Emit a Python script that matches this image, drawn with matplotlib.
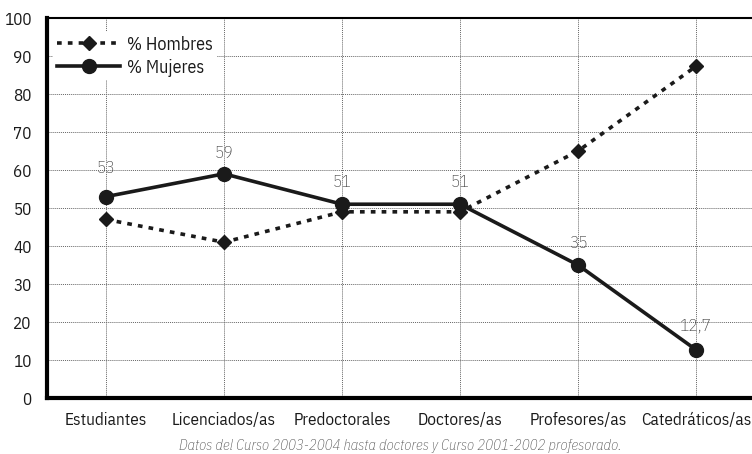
import matplotlib.pyplot as plt

categorias = ["Estudiantes", "Licenciados/as", "Predoctorales", "Doctores/as",
              "Profesores/as", "Catedráticos/as"]
hombres = [47, 41, 49, 49, 65, 87.3]
mujeres = [53, 59, 51, 51, 35, 12.7]
etiquetas_mujeres = ["53", "59", "51", "51", "35", "12,7"]
yticks = list(range(0, 101, 10))

# distancia de la etiqueta sobre el punto (unidades del eje y)
desplaz = [7.6, 5.4, 5.8, 5.8, 5.8, 6.4]

plt.rcParams["font.family"] = ["IBM Plex Sans Condensed", "Fira Sans Condensed", "DejaVu Sans"]

fig = plt.figure(figsize=(7.52, 4.54), dpi=100)
ax = fig.add_axes([0.0625, 0.1233, 0.9415, 0.837])

x = list(range(len(categorias)))
ax.plot(x, hombres, color="#1a1a1a", lw=2.6, ls=(0, (1.3, 1.7)),
        marker="D", ms=7.5, label="% Hombres", zorder=3)
ax.plot(x, mujeres, color="#1a1a1a", lw=2.6, ls="-",
        marker="o", ms=10, label="% Mujeres", zorder=4)

for xi, v, t, d in zip(x, mujeres, etiquetas_mujeres, desplaz):
    ax.text(xi, v + d, t, ha="center", va="center", fontsize=12.5,
            color="#3a3a3a", fontweight="light", zorder=5)

ax.set_xlim(-0.5, 5.5)
ax.set_ylim(0, 100)
ax.set_yticks(yticks)
ax.set_xticks(x)
ax.set_xticklabels(categorias)
ax.tick_params(axis="both", length=0, labelsize=12.3, colors="#1a1a1a")
ax.tick_params(axis="x", pad=10)
ax.tick_params(axis="y", pad=11)
ax.grid(True, color="#666666", lw=0.7, ls=(0, (1, 1)))
ax.set_axisbelow(True)

ax.spines["left"].set_linewidth(3)
ax.spines["bottom"].set_linewidth(3)
ax.spines["top"].set_linewidth(1.5)
ax.spines["right"].set_visible(False)

leg = ax.legend(loc="upper left", bbox_to_anchor=(0.009, 0.963), frameon=True,
                fontsize=13, handlelength=3.5, borderaxespad=0,
                handletextpad=0.4, labelspacing=0.27, borderpad=0.2)
leg.get_frame().set_edgecolor("none")
leg.get_frame().set_facecolor("white")
leg.get_frame().set_alpha(1)
for txt in leg.get_texts():
    txt.set_color("#1a1a1a")

fig.text(0.532, 0.018, "Datos del Curso 2003-2004 hasta doctores y Curso 2001-2002 profesorado.",
         ha="center", va="center", fontsize=10.5, style="italic", color="#4a4a4a",
         fontweight="light")

fig.savefig("out.png", dpi=100)
